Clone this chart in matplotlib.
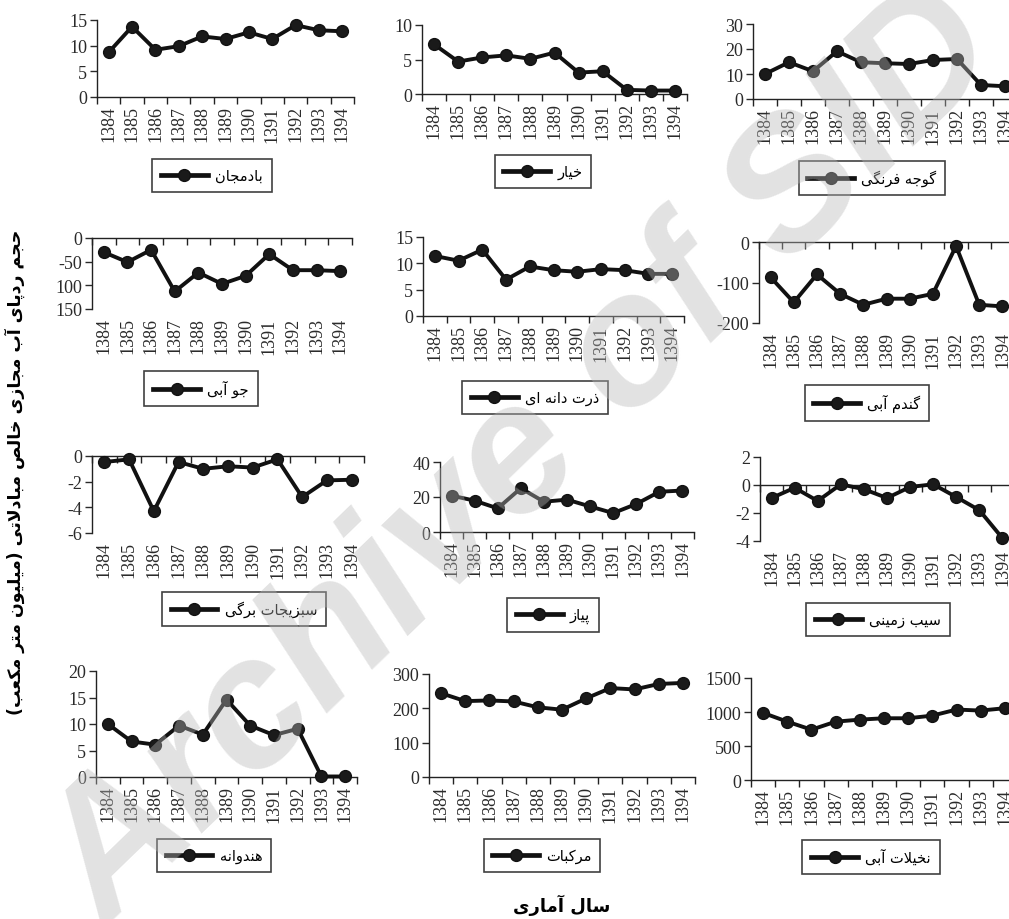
import numpy as np
import matplotlib
import matplotlib.pyplot as plt
from matplotlib.ticker import FixedLocator

plt.rcParams['font.family'] = ['Liberation Serif', 'DejaVu Serif']
plt.rcParams['axes.unicode_minus'] = False

years = ['1384', '1385', '1386', '1387', '1388', '1389',
         '1390', '1391', '1392', '1393', '1394']

names = ['بادمجان', 'خیار', 'گوجه فرنگی',
         'جو آبی', 'ذرت دانه ای', 'گندم آبی',
         'سبزیجات برگی', 'پیاز', 'سیب زمینی',
         'هندوانه', 'مرکبات', 'نخیلات آبی']

eggplant = [8.7, 13.7, 9.2, 9.9, 11.8, 11.3, 12.6, 11.3, 14.0, 13.0, 12.8]
cucumber = [7.2, 4.7, 5.3, 5.6, 5.1, 6.0, 3.1, 3.3, 0.6, 0.5, 0.5]
tomato = [10.0, 14.7, 11.1, 19.1, 14.7, 14.3, 14.0, 15.6, 16.0, 5.6, 5.1]
barley = [-30, -51, -25, -113, -73, -97, -80, -34, -68, -68, -70]
corn = [11.4, 10.5, 12.6, 6.9, 9.4, 8.7, 8.4, 8.9, 8.7, 8.0, 8.0]
wheat = [-87, -149, -80, -128, -155, -140, -140, -128, -10, -155, -159]
leafy = [-0.47, -0.26, -4.3, -0.47, -1.0, -0.8, -0.9, -0.26, -3.2, -1.9, -1.85]
onion = [20.8, 17.9, 13.5, 25.0, 17.3, 18.5, 14.6, 10.8, 16.0, 23.0, 23.7]
potato = [-0.93, -0.2, -1.14, 0.05, -0.3, -0.93, -0.14, 0.05, -0.86, -1.8, -3.8]
watermelon = [10.0, 6.7, 6.1, 9.7, 8.0, 14.6, 9.7, 7.9, 9.1, 0.1, 0.1]
citrus = [244, 221, 223, 220, 203, 196, 229, 259, 255, 271, 274]
dates = [987, 858, 740, 858, 888, 908, 908, 947, 1036, 1021, 1056]

series = [eggplant, cucumber, tomato, barley, corn, wheat,
          leafy, onion, potato, watermelon, citrus, dates]

yticks = [[0, 5, 10, 15], [0, 5, 10], [0, 10, 20, 30],
          [-150, -100, -50, 0], [0, 5, 10, 15], [-200, -100, 0],
          [-6, -4, -2, 0], [0, 20, 40], [-4, -2, 0, 2],
          [0, 5, 10, 15, 20], [0, 100, 200, 300], [0, 500, 1000, 1500]]
ytick_labels = [None, None, None,
                ['150', '100', '-50', '0'], None, None,
                None, None, None,
                None, None, None]

ylabel = 'حجم ردپای آب مجازی خالص مبادلاتی (میلیون متر مکعب)'
xlabel = 'سال آماری'

# --- minimal Persian shaping (matplotlib has no complex text layout) ---
FORMS = {
    'ا': ('\uFE8D', '\uFE8E', None, None),
    'آ': ('\uFE81', '\uFE82', None, None),
    'ب': ('\uFE8F', '\uFE90', '\uFE91', '\uFE92'),
    'پ': ('\uFB56', '\uFB57', '\uFB58', '\uFB59'),
    'ت': ('\uFE95', '\uFE96', '\uFE97', '\uFE98'),
    'ج': ('\uFE9D', '\uFE9E', '\uFE9F', '\uFEA0'),
    'ح': ('\uFEA1', '\uFEA2', '\uFEA3', '\uFEA4'),
    'خ': ('\uFEA5', '\uFEA6', '\uFEA7', '\uFEA8'),
    'د': ('\uFEA9', '\uFEAA', None, None),
    'ذ': ('\uFEAB', '\uFEAC', None, None),
    'ر': ('\uFEAD', '\uFEAE', None, None),
    'ز': ('\uFEAF', '\uFEB0', None, None),
    'س': ('\uFEB1', '\uFEB2', '\uFEB3', '\uFEB4'),
    'ص': ('\uFEB9', '\uFEBA', '\uFEBB', '\uFEBC'),
    'ع': ('\uFEC9', '\uFECA', '\uFECB', '\uFECC'),
    'ف': ('\uFED1', '\uFED2', '\uFED3', '\uFED4'),
    'ک': ('\uFB8E', '\uFB8F', '\uFB90', '\uFB91'),
    'گ': ('\uFB92', '\uFB93', '\uFB94', '\uFB95'),
    'ل': ('\uFEDD', '\uFEDE', '\uFEDF', '\uFEE0'),
    'م': ('\uFEE1', '\uFEE2', '\uFEE3', '\uFEE4'),
    'ن': ('\uFEE5', '\uFEE6', '\uFEE7', '\uFEE8'),
    'ه': ('\uFEE9', '\uFEEA', '\uFEEB', '\uFEEC'),
    'و': ('\uFEED', '\uFEEE', None, None),
    'ی': ('\uFBFC', '\uFBFD', '\uFBFE', '\uFBFF'),
}


def fa(text):
    res = []
    i = 0
    n = len(text)
    while i < n:
        c = text[i]
        if c not in FORMS:
            res.append(c)
            i += 1
            continue
        prev = text[i - 1] if i > 0 else ''
        joins_prev = prev in FORMS and FORMS[prev][2] is not None
        if c == 'ل' and i + 1 < n and text[i + 1] == 'ا':
            res.append('\uFEFC' if joins_prev else '\uFEFB')
            i += 2
            continue
        nxt = text[i + 1] if i + 1 < n else ''
        iso, fin, ini, med = FORMS[c]
        joins_next = ini is not None and nxt in FORMS
        if joins_prev and joins_next:
            g = med
        elif joins_prev:
            g = fin
        elif joins_next:
            g = ini
        else:
            g = iso
        res.append(g)
        i += 1
    s = ''.join(reversed(res))
    return s.translate(str.maketrans('()', ')('))


W, H = 1009, 920
fig = plt.figure(figsize=(W / 100, H / 100), dpi=100)

# axes boxes in pixels: left, right, top, bottom
rects = [(97, 354, 21, 98), (422, 687, 26, 95), (753, 1017, 25, 100),
         (92, 352, 239, 310), (423, 684, 238, 317), (759, 1014, 243, 324),
         (92, 364, 457, 534), (440, 694, 463, 533), (760, 1014, 458, 542),
         (96, 357, 672, 778), (429, 695, 675, 778), (751, 1017, 679, 781)]
legend_pos = [(212, 160), (543, 156), (872, 162), (201, 372), (535, 382), (867, 386),
              (244, 593), (553, 599), (878, 604), (214, 840), (542, 840), (871, 841)]

x = np.arange(len(years))
for k, vals in enumerate(series):
    l, r, t, b = rects[k]
    ax = fig.add_axes([l / W, 1 - b / H, (r - l) / W, (b - t) / H])
    line, = ax.plot(x, vals, color='#111111', lw=2.8, marker='o', ms=8.5,
                    markerfacecolor='#1a1a1a', markeredgecolor='#111111',
                    clip_on=False, zorder=3)
    ax.set_xlim(-0.5, len(years) - 0.5)
    ax.set_ylim(min(yticks[k]), max(yticks[k]))
    ax.set_yticks(yticks[k])
    if ytick_labels[k] is not None:
        ax.set_yticklabels(ytick_labels[k])
    ax.set_xticks(x)
    ax.set_xticklabels(years)
    ax.xaxis.set_minor_locator(FixedLocator(np.arange(-0.5, len(years), 1.0)))
    ax.tick_params(axis='x', which='major', bottom=True, top=False, length=0,
                   labelrotation=90, labelsize=13, pad=6, colors='#2a2a2a')
    ax.tick_params(axis='x', which='minor', bottom=False, top=True,
                   direction='in', length=5, width=1, color='#222222')
    ax.tick_params(axis='y', length=5, width=1, labelsize=13, pad=2,
                   colors='#2a2a2a')
    ax.spines['right'].set_visible(False)
    ax.spines['bottom'].set_visible(False)
    ax.spines['top'].set_position(('data', 0))
    for s in ('left', 'top'):
        ax.spines[s].set_color('#222222')
        ax.spines[s].set_linewidth(1)
    ax.patch.set_alpha(0)
    cx, cy = legend_pos[k]
    leg = ax.legend([line], [fa(names[k])], loc='upper center',
                    bbox_to_anchor=(cx / W, 1 - cy / H),
                    bbox_transform=fig.transFigure,
                    frameon=True, fancybox=False, handlelength=3.2,
                    handletextpad=0.5, borderpad=0.6, borderaxespad=0,
                    prop={'family': 'DejaVu Sans', 'size': 10.5})
    leg.get_frame().set_edgecolor('#111111')
    leg.get_frame().set_linewidth(1.2)
    for h in leg.legend_handles:
        h.set_linewidth(3.4)

fig.text(15 / W, 1 - 472 / H, fa(ylabel), rotation=90, ha='center', va='center',
         fontsize=12.5, fontweight='bold', family='DejaVu Sans')
fig.text(562 / W, 1 - 905 / H, fa(xlabel), ha='center', va='center',
         fontsize=13, fontweight='bold', family='DejaVu Sans')

# watermark of the source page
fig.text(0.52, 0.50, 'Archive of SID', rotation=44, ha='center', va='center',
         fontsize=132, fontweight='bold', style='italic', family='Liberation Sans',
         color='#b8b8b8', alpha=0.4, zorder=100)

fig.savefig('out.png', dpi=100)
